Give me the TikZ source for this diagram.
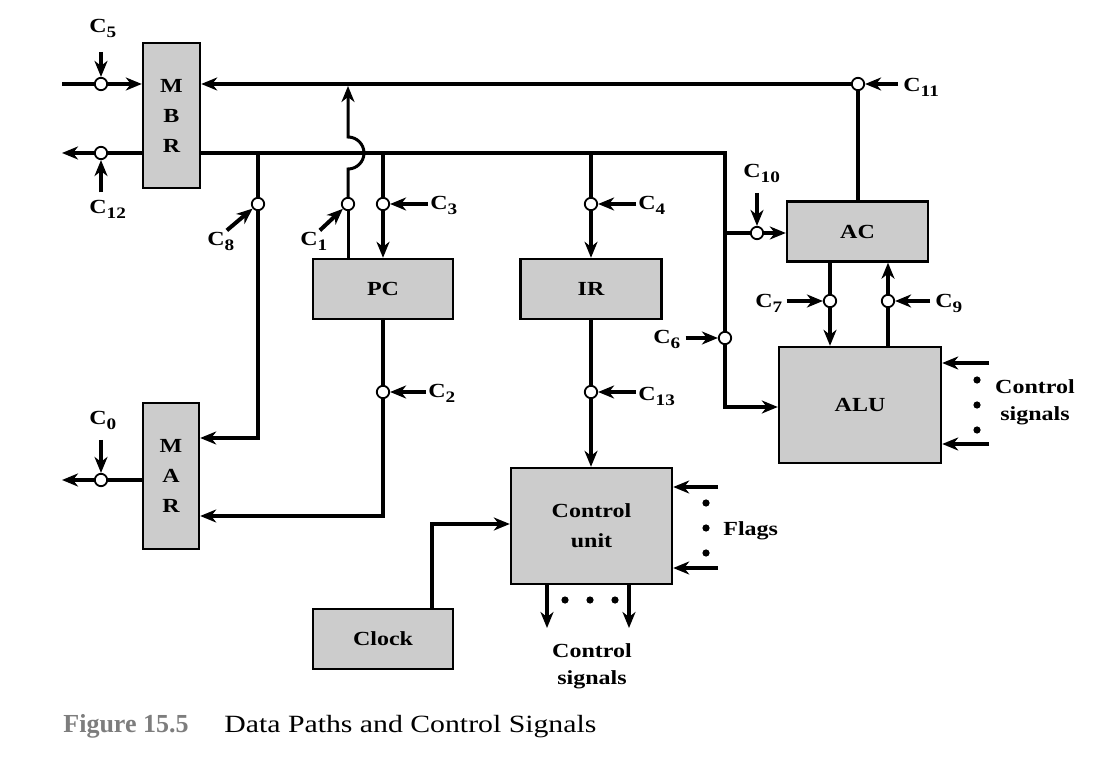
\documentclass[tikz,border=0pt]{standalone}
\usepackage{fontspec}
\setmainfont{Liberation Serif}[FakeStretch=1.2]
\newfontfamily\plainserif{Liberation Serif}
\usetikzlibrary{arrows.meta}
\definecolor{BoxGray}{RGB}{204,204,204}
\definecolor{CaptionGray}{RGB}{125,125,125}
\newcommand{\sig}[1]{C\raisebox{-2.2pt}{\fontsize{8}{8}\selectfont #1}}

\begin{document}
\begin{tikzpicture}[x=0.5pt,y=-0.5pt,
      font=\fontsize{10}{15}\selectfont\bfseries,
      box/.style={draw,line width=1.2pt,fill=BoxGray,inner sep=0pt,align=center},
      gate/.style={circle,draw,fill=white,line width=0.9pt,minimum size=6.2pt,inner sep=0pt},
      lbl/.style={inner sep=1pt,anchor=base west},
      bus/.style={line width=2pt},
      thinbus/.style={line width=1.5pt},
      arrow/.style={bus,-{Stealth[length=8pt,width=6.5pt,inset=2.5pt]}}]
    \useasboundingbox (0,0) rectangle (1102,758);

    % registers and units
    \node[box,minimum width=28.5pt,minimum height=72.5pt] (mbr) at (171.5,115.5) {M\\B\\R};
    \node[box,minimum width=28pt,minimum height=73pt] (mar) at (171,476) {M\\A\\R};
    \node[box,minimum width=70pt,minimum height=30pt] (pc) at (383,289) {PC};
    \node[box,minimum width=70.5pt,minimum height=30pt] (ir) at (591,289) {IR};
    \node[box,minimum width=70.5pt,minimum height=30pt] (ac) at (857.5,231.5) {AC};
    \node[box,minimum width=81pt,minimum height=58pt] (alu) at (860,405) {ALU};
    \node[box,minimum width=80.5pt,minimum height=58pt] (cu) at (591.5,526) {Control\\unit};
    \node[box,minimum width=70pt,minimum height=30pt] (clock) at (383,639) {Clock};

    % gates
    \node[gate] (g0) at (101,480) {};
    \node[gate] (g1) at (348,204) {};
    \node[gate] (g2) at (383,392) {};
    \node[gate] (g3) at (383,204) {};
    \node[gate] (g4) at (591,204) {};
    \node[gate] (g5) at (101,84) {};
    \node[gate] (g6) at (725,338) {};
    \node[gate] (g7) at (830,301) {};
    \node[gate] (g8) at (258,204) {};
    \node[gate] (g9) at (888,301) {};
    \node[gate] (g10) at (757,233) {};
    \node[gate] (g11) at (858,84) {};
    \node[gate] (g12) at (101,153) {};
    \node[gate] (g13) at (591,392) {};

    % signal names
    \node[lbl] (lc0) at (87,425) {\sig{0}};
    \node[lbl] (lc1) at (298,246) {\sig{1}};
    \node[lbl] (lc2) at (426,398) {\sig{2}};
    \node[lbl] (lc3) at (428,210) {\sig{3}};
    \node[lbl] (lc4) at (636,210) {\sig{4}};
    \node[lbl] (lc5) at (87,33) {\sig{5}};
    \node[lbl] (lc6) at (651,344) {\sig{6}};
    \node[lbl] (lc7) at (753,308) {\sig{7}};
    \node[lbl] (lc8) at (205,246) {\sig{8}};
    \node[lbl] (lc9) at (933,308) {\sig{9}};
    \node[lbl] (lc10) at (741,178) {\sig{10}};
    \node[lbl] (lc11) at (901,92) {\sig{11}};
    \node[lbl] (lc12) at (87,214) {\sig{12}};
    \node[lbl] (lc13) at (636,401) {\sig{13}};

    % free ends and bends
    \coordinate (inL) at (62,84);
    \coordinate (outL) at (62,153);
    \coordinate (marout) at (62,480);
    \coordinate (busR) at (725,153);
    \coordinate (acbr) at (725,233);
    \coordinate (aluin) at (725,407);
    \coordinate (c8bend) at (258,438);
    \coordinate (pcbend) at (383,516);
    \coordinate (clkbend) at (432,524);
    \coordinate (aluctl1) at (989,363);
    \coordinate (aluctl2) at (989,444);
    \coordinate (flag1) at (718,487);
    \coordinate (flag2) at (718,568);
    \coordinate (cusig1) at (547,628);
    \coordinate (cusig2) at (629,628);

    % memory side
    \draw[bus] (inL) -- (g5);
    \draw[arrow] (g5) -- (mbr.west |- g5);
    \draw[bus] (mbr.west |- g12) -- (g12);
    \draw[arrow] (g12) -- (outL);
    \draw[bus] (mar.west |- g0) -- (g0);
    \draw[arrow] (g0) -- (marout);

    % top bus into MBR
    \draw[arrow] (g11) -- (mbr.east |- g11);
    \draw[bus] (g11) -- (ac.north -| g11);

    % bus out of MBR
    \draw[bus] (mbr.east |- g12) -- (busR) -- (g6);
    \draw[arrow] (g6) -- (aluin) -- (alu.west |- aluin);
    \draw[bus] (acbr) -- (g10);
    \draw[arrow] (g10) -- (ac.west |- g10);
    \draw[bus] (g8 |- g12) -- (g8);
    \draw[arrow] (g8) -- (c8bend) -- (mar.east |- c8bend);
    \draw[bus] (g3 |- g12) -- (g3);
    \draw[arrow] (g3) -- (pc.north -| g3);
    \draw[bus] (g4 |- g12) -- (g4);
    \draw[arrow] (g4) -- (ir.north -| g4);

    % PC out, hopping over the bus
    \draw[thinbus] (pc.north -| g1) -- (g1);
    \draw[thinbus,-{Stealth[length=8pt,width=6.5pt,inset=2.5pt]},shorten >=1pt]
      (g1) -- ([yshift=-8pt]g1 |- g12) arc[start angle=-90,end angle=90,radius=8pt] -- (g1 |- g5);
    \draw[bus] (pc.south -| g2) -- (g2);
    \draw[arrow] (g2) -- (pcbend) -- (mar.east |- pcbend);

    % IR, clock, control unit
    \draw[bus] (ir.south -| g13) -- (g13);
    \draw[arrow] (g13) -- (cu.north -| g13);
    \draw[arrow] (clock.north -| clkbend) -- (clkbend) -- (cu.west |- clkbend);
    \draw[arrow] (flag1) -- (cu.east |- flag1);
    \draw[arrow] (flag2) -- (cu.east |- flag2);
    \draw[arrow] (cu.south -| cusig1) -- (cusig1);
    \draw[arrow] (cu.south -| cusig2) -- (cusig2);

    % AC and ALU
    \draw[bus] (ac.south -| g7) -- (g7);
    \draw[arrow] (g7) -- (alu.north -| g7);
    \draw[bus] (alu.north -| g9) -- (g9);
    \draw[arrow] (g9) -- (ac.south -| g9);
    \draw[arrow] (aluctl1) -- (alu.east |- aluctl1);
    \draw[arrow] (aluctl2) -- (alu.east |- aluctl2);

    % control signals to the gates
    \draw[arrow,shorten <=6pt] (lc5.south -| g5) -- (g5);
    \draw[arrow,shorten <=3pt] (lc12.north -| g12) -- (g12);
    \draw[arrow,shorten <=4pt] (lc0.south -| g0) -- (g0);
    \draw[arrow,shorten <=4pt] (lc10.south -| g10) -- (g10);
    \draw[arrow] ([xshift=3pt]lc8.north) -- (g8);
    \draw[arrow] ([xshift=3pt]lc1.north) -- (g1);
    \draw[arrow] (lc3.west |- g3) -- (g3);
    \draw[arrow] (lc4.west |- g4) -- (g4);
    \draw[arrow] (lc2.west |- g2) -- (g2);
    \draw[arrow] (lc13.west |- g13) -- (g13);
    \draw[arrow,shorten <=1.5pt] (lc6.east |- g6) -- (g6);
    \draw[arrow,shorten <=1pt] (lc7.east |- g7) -- (g7);
    \draw[arrow,shorten <=1.5pt] (lc9.west |- g9) -- (g9);
    \draw[arrow,shorten <=1.5pt] (lc11.west |- g11) -- (g11);

    % dots and outside labels
    \foreach \y in {380,405,430} \fill (977,\y) circle (1.8pt);
    \foreach \y in {503,528,553} \fill (706,\y) circle (1.8pt);
    \foreach \x in {565,590,615} \fill (\x,600) circle (1.8pt);
    \node[align=center,font=\fontsize{10}{13.5}\selectfont\bfseries] (alusig) at (1035,402) {Control\\signals};
    \node[lbl] (flags) at (721,535) {Flags};
    \node[align=center,font=\fontsize{10}{13.5}\selectfont\bfseries] (cusig) at (592,666) {Control\\signals};

    % caption
    \node[anchor=base west,inner sep=0pt,text=CaptionGray,font=\fontsize{13}{15}\selectfont\plainserif\bfseries] (figno) at (63,732) {Figure 15.5};
    \node[anchor=base west,inner sep=0pt,font=\fontsize{12.4}{15}\selectfont\mdseries] (figtitle) at (224,732) {Data Paths and Control Signals};
  \end{tikzpicture}
\end{document}
